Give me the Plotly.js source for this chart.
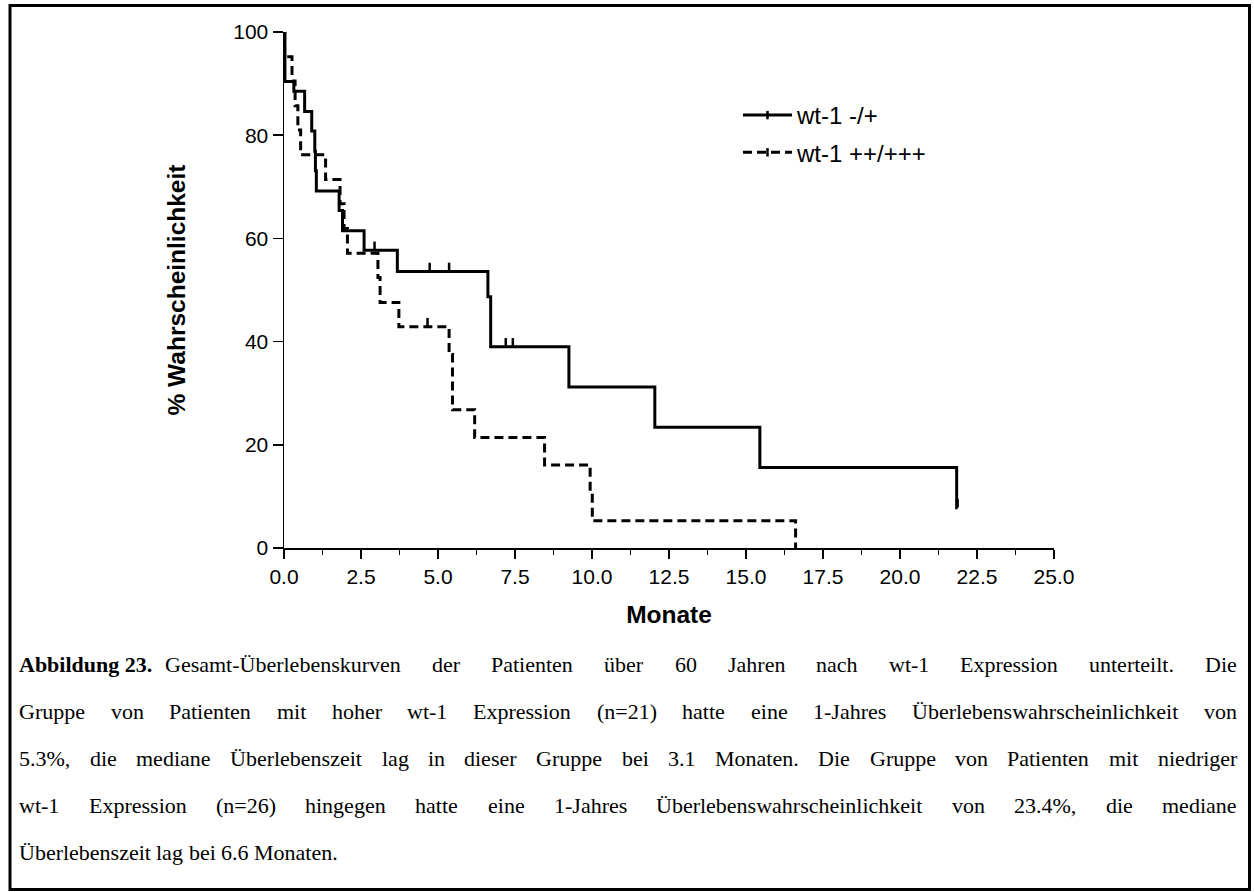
<!DOCTYPE html>
<html><head><meta charset="utf-8">
<script src="https://cdn.plot.ly/plotly-3.0.1.min.js"></script>
<style>html,body{margin:0;padding:0;background:#fff;}#chart{width:1254px;height:892px;}</style>
</head><body><div id="chart"></div>
<script>
// ---- data ----
const seriesNames = ['wt-1 -/+', 'wt-1 ++/+++'];
// wt-1 -/+ (solid)
const lowTime = [0, 0.03, 0.32, 0.67, 0.9, 1.0, 1.02, 1.05, 1.79, 1.9, 2.6, 3.68, 6.62, 6.71, 9.25, 12.04, 15.45, 21.84, 21.87];
const lowSurv = [100, 90.4, 88.5, 84.6, 80.8, 76.9, 73.1, 69.2, 65.4, 61.5, 57.7, 53.6, 48.7, 39.0, 31.2, 23.4, 15.6, 7.8, 7.8];
const lowCensTime = [2.94, 4.73, 5.36, 7.2, 7.43, 21.87];
const lowCensSurv = [57.7, 53.6, 53.6, 39.0, 39.0, 7.8];
// wt-1 ++/+++ (dashed)
const highTime = [0, 0.02, 0.26, 0.36, 0.45, 0.54, 1.35, 1.82, 1.95, 2.06, 3.05, 3.12, 3.73, 5.36, 5.47, 6.19, 8.46, 9.94, 10.01, 16.61];
const highSurv = [100, 95.2, 90.5, 85.7, 81.0, 76.2, 71.4, 66.7, 61.9, 57.1, 52.4, 47.6, 42.9, 37.5, 26.8, 21.4, 16.1, 10.6, 5.3, 0];
const highCensTime = [4.66];
const highCensSurv = [42.9];
// axes
const xTickVals = [0, 2.5, 5, 7.5, 10, 12.5, 15, 17.5, 20, 22.5, 25];
const xTickLabels = ['0.0', '2.5', '5.0', '7.5', '10.0', '12.5', '15.0', '17.5', '20.0', '22.5', '25.0'];
const xMinorVals = [1.25, 3.75, 6.25, 8.75, 11.25, 13.75, 16.25, 18.75, 21.25, 23.75];
const yTickVals = [0, 20, 40, 60, 80, 100];
const xTitle = 'Monate';
const yTitle = '% Wahrscheinlichkeit';
const captionLabel = 'Abbildung 23.';
const captionLines = [
  'Gesamt-Überlebenskurven der Patienten über 60 Jahren nach wt-1 Expression unterteilt. Die',
  'Gruppe von Patienten mit hoher wt-1 Expression (n=21) hatte eine 1-Jahres Überlebenswahrscheinlichkeit von',
  '5.3%, die mediane Überlebenszeit lag in dieser Gruppe bei 3.1 Monaten. Die Gruppe von Patienten mit niedriger',
  'wt-1 Expression (n=26) hingegen hatte eine 1-Jahres Überlebenswahrscheinlichkeit von 23.4%, die mediane',
  'Überlebenszeit lag bei 6.6 Monaten.'
];

// ---- layout geometry ----
const W = 1254, H = 892;
const M = {l: 284, r: 200, t: 32, b: 344};
const PW = W - M.l - M.r, PH = H - M.t - M.b;
const px2x = p => (p - M.l) / PW;
const px2y = p => (M.t + PH - p) / PH;
const Y_RANGE = [0, 100];
const tickUpPx = 4.5;
const tickOffset = tickUpPx / PH * (Y_RANGE[1] - Y_RANGE[0]);

const SANS = 'Liberation Sans, Arial, sans-serif';
const SERIF = 'Liberation Serif, Times New Roman, serif';

const lineStyle = [
  {color: '#000', width: 3, dash: 'solid'},
  {color: '#000', width: 3, dash: '9px,5px'}
];
const censMarker = {symbol: 'line-ns', size: 6, color: '#000', line: {color: '#000', width: 2.5}};

const traces = [
  {x: lowTime, y: lowSurv, mode: 'lines', line: Object.assign({shape: 'hv'}, lineStyle[0]), showlegend: false, cliponaxis: false, hoverinfo: 'skip'},
  {x: lowCensTime, y: lowCensSurv.map(v => v + tickOffset), mode: 'markers', marker: censMarker, showlegend: false, cliponaxis: false, hoverinfo: 'skip'},
  {x: highTime, y: highSurv, mode: 'lines', line: Object.assign({shape: 'hv'}, lineStyle[1]), showlegend: false, cliponaxis: false, hoverinfo: 'skip'},
  {x: highCensTime, y: highCensSurv.map(v => v + tickOffset), mode: 'markers', marker: censMarker, showlegend: false, cliponaxis: false, hoverinfo: 'skip'},
  // legend entries
  {x: [null], y: [null], mode: 'lines+markers', name: seriesNames[0], line: lineStyle[0], marker: censMarker, legendgroup: 'a', showlegend: true},
  {x: [null], y: [null], mode: 'lines+markers', name: seriesNames[1], line: lineStyle[1], marker: censMarker, legendgroup: 'b', showlegend: true}
];

// ---- caption (justified, word by word) ----
const CAP_SIZE = 22;
const capLeft = 19, capRight = 1237;
const labelGap = 13;
const capRows = [664, 711, 758, 805, 852];
const cv = document.createElement('canvas').getContext('2d');
function measure(text, bold) {
  cv.font = (bold ? 'bold ' : '') + CAP_SIZE + 'px "Liberation Serif"';
  return cv.measureText(text).width;
}
const annotations = [];
function addWord(text, xpx, row) {
  annotations.push({
    text: text, xref: 'paper', yref: 'paper', x: px2x(xpx - 2), y: px2y(capRows[row]),
    xanchor: 'left', yanchor: 'middle', showarrow: false,
    font: {family: SERIF, size: CAP_SIZE, color: '#000'}
  });
}
captionLines.forEach((line, i) => {
  let start = capLeft;
  if (i === 0) {
    addWord('<b>' + captionLabel + '</b>', capLeft, 0);
    start = capLeft + measure(captionLabel, true) + labelGap;
  }
  const words = line.split(' ');
  const widths = words.map(w => measure(w, false));
  const sum = widths.reduce((a, b) => a + b, 0);
  const normalGap = measure(' ', false);
  const justify = i < captionLines.length - 1;
  const gap = justify ? (capRight - start - sum) / (words.length - 1) : normalGap;
  let x = start;
  words.forEach((w, k) => {
    addWord(w, x, i);
    x += widths[k] + gap;
  });
});

const layout = {
  width: W, height: H,
  margin: M,
  paper_bgcolor: '#fff', plot_bgcolor: '#fff',
  showlegend: true,
  legend: {
    x: px2x(738), y: px2y(93), xanchor: 'left', yanchor: 'top',
    font: {family: SANS, size: 24, color: '#000'},
    itemwidth: 49, traceorder: 'grouped', tracegroupgap: 3,
    bgcolor: 'rgba(0,0,0,0)', borderwidth: 0
  },
  xaxis: {
    range: [0, 25], tickmode: 'array', tickvals: xTickVals, ticktext: xTickLabels,
    ticks: 'outside', ticklen: 9, tickwidth: 1.5, tickcolor: '#000',
    showline: true, linewidth: 1.5, linecolor: '#000', showgrid: false, zeroline: false,
    tickfont: {family: SANS, size: 21, color: '#000'},
    minor: {tickmode: 'array', tickvals: xMinorVals, ticks: 'outside', ticklen: 5, tickwidth: 1.5, tickcolor: '#000', showgrid: false},
    title: {text: '<b>' + xTitle + '</b>', font: {family: SANS, size: 24.5, color: '#000'}, standoff: 19},
    automargin: false, fixedrange: true
  },
  yaxis: {
    range: Y_RANGE, tickmode: 'array', tickvals: yTickVals,
    ticks: 'outside', ticklen: 10, tickwidth: 1.5, tickcolor: '#000',
    showline: true, linewidth: 1.5, linecolor: '#000', showgrid: false, zeroline: false,
    tickfont: {family: SANS, size: 21, color: '#000'},
    title: {text: '<b>' + yTitle + '</b>', font: {family: SANS, size: 24.5, color: '#000'}, standoff: 40},
    automargin: false, fixedrange: true
  },
  shapes: [{
    type: 'rect', xref: 'paper', yref: 'paper', layer: 'above',
    x0: px2x(10), x1: px2x(1249.5), y0: px2y(889.5), y1: px2y(5.5),
    line: {color: '#000', width: 3}
  }],
  annotations: annotations
};

Plotly.newPlot('chart', traces, layout, {staticPlot: true, displayModeBar: false});
</script>
</body></html>
